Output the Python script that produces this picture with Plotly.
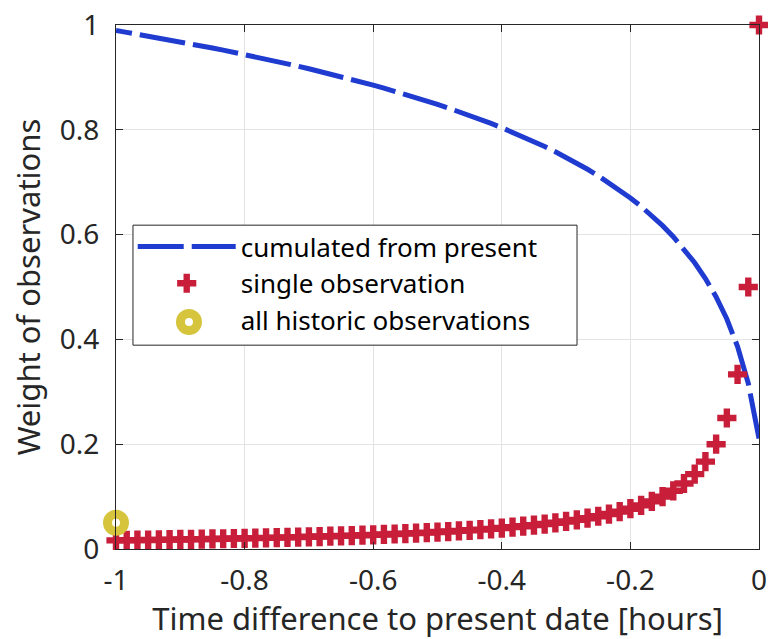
import plotly.graph_objects as go

# minutes before present (0 = present, -60 = one hour ago)
minutes = [-m for m in range(0, 61)]
hours = [m / 60 for m in minutes]

single_weight = [1.0, 0.5, 0.3333, 0.25, 0.2, 0.1667, 0.1429, 0.125, 0.1111, 0.1,
                 0.0909, 0.0833, 0.0769, 0.0714, 0.0667, 0.0625, 0.0588, 0.0556, 0.0526, 0.05,
                 0.0476, 0.0455, 0.0435, 0.0417, 0.04, 0.0385, 0.037, 0.0357, 0.0345, 0.0333,
                 0.0323, 0.0313, 0.0303, 0.0294, 0.0286, 0.0278, 0.027, 0.0263, 0.0256, 0.025,
                 0.0244, 0.0238, 0.0233, 0.0227, 0.0222, 0.0217, 0.0213, 0.0208, 0.0204, 0.02,
                 0.0196, 0.0192, 0.0189, 0.0185, 0.0182, 0.0179, 0.0175, 0.0172, 0.0169, 0.0167,
                 0.0164]

cumulated = [0.2107, 0.3160, 0.3863, 0.4389, 0.4811, 0.5162, 0.5463, 0.5726, 0.5960, 0.6171,
             0.6363, 0.6538, 0.6700, 0.6851, 0.6991, 0.7123, 0.7247, 0.7364, 0.7475, 0.7580,
             0.7680, 0.7776, 0.7868, 0.7956, 0.8040, 0.8121, 0.8199, 0.8274, 0.8347, 0.8417,
             0.8485, 0.8551, 0.8615, 0.8677, 0.8737, 0.8795, 0.8852, 0.8908, 0.8962, 0.9014,
             0.9066, 0.9116, 0.9165, 0.9213, 0.9260, 0.9306, 0.9350, 0.9394, 0.9437, 0.9479,
             0.9521, 0.9561, 0.9601, 0.9640, 0.9678, 0.9716, 0.9753, 0.9789, 0.9825, 0.9860,
             0.9895]

historic_x = [-1.0]
historic_weight = [0.05]

x_ticks = [-1, -0.8, -0.6, -0.4, -0.2, 0]
x_ticklabels = ["-1", "-0.8", "-0.6", "-0.4", "-0.2", "0"]
y_ticks = [0, 0.2, 0.4, 0.6, 0.8, 1]
y_ticklabels = ["0", "0.2", "0.4", "0.6", "0.8", "1"]

FONT = "Noto Sans"
TXT = "#262626"
YELLOW = "#D6C43C"

fig = go.Figure()
fig.add_trace(go.Scatter(
    x=hours, y=cumulated, mode="lines", name="cumulated from present",
    line=dict(color="#1F3BD0", width=5, dash="46px,8px"), cliponaxis=False))
fig.add_trace(go.Scatter(
    x=hours, y=single_weight, mode="markers", name="single observation",
    marker=dict(symbol="cross", size=16, color="#C81E3A", line=dict(width=0)),
    cliponaxis=False))
fig.add_trace(go.Scatter(
    x=historic_x, y=historic_weight, mode="markers", name="all historic observations",
    marker=dict(symbol="circle", size=17, color="white",
                line=dict(color=YELLOW, width=9)),
    cliponaxis=False, showlegend=False))
# legend-only entry (its symbol is drawn as a larger ring shape below)
fig.add_trace(go.Scatter(
    x=[None], y=[None], mode="markers", name="all historic observations",
    marker=dict(symbol="circle", size=10, color="rgba(0,0,0,0)",
                line=dict(color="rgba(0,0,0,0)", width=0))))

axis_common = dict(
    showline=True, linecolor=TXT, linewidth=1, mirror="ticks",
    ticks="inside", ticklen=7, tickcolor=TXT, tickwidth=1,
    showgrid=True, gridcolor="#E3E3E3", gridwidth=1, zeroline=False,
    tickfont=dict(family=FONT, size=28, color=TXT), automargin=False,
)

fig.update_xaxes(
    range=[-1, 0], tickvals=x_ticks, ticktext=x_ticklabels,
    title=dict(text="Time difference to present date [hours]",
               font=dict(family=FONT, size=31, color=TXT), standoff=8),
    ticklabelstandoff=6, **axis_common)
fig.update_yaxes(
    range=[0, 1], tickvals=y_ticks, ticktext=y_ticklabels,
    title=dict(text="Weight of observations",
               font=dict(family=FONT, size=31, color=TXT), standoff=10),
    ticklabelstandoff=10, **axis_common)

# legend box (white, black border) drawn as a shape above the data;
# the transparent legend sits on top of it
fig.add_shape(type="rect", xref="paper", yref="paper",
              x0=0.0264, x1=0.717, y0=0.389, y1=0.618,
              fillcolor="white", line=dict(color=TXT, width=1), layer="above")
# legend ring symbol for "all historic observations"
fig.add_shape(type="circle", xref="paper", yref="paper",
              xsizemode="pixel", ysizemode="pixel",
              xanchor=0.1135, yanchor=0.4332, x0=-8.5, x1=8.5, y0=-8.5, y1=8.5,
              fillcolor="white", line=dict(color=YELLOW, width=9), layer="above")

fig.update_layout(
    width=768, height=639,
    margin=dict(l=116, r=9, t=25, b=90, autoexpand=False),
    paper_bgcolor="white", plot_bgcolor="white",
    font=dict(family=FONT, color="black"),
    showlegend=True,
    legend=dict(
        x=0.026, y=0.622, xanchor="left", yanchor="top",
        bgcolor="rgba(0,0,0,0)", borderwidth=0,
        font=dict(family=FONT, size=26, color="black"),
        itemwidth=98, tracegroupgap=0,
    ),
)

fig.write_html("out.html")
